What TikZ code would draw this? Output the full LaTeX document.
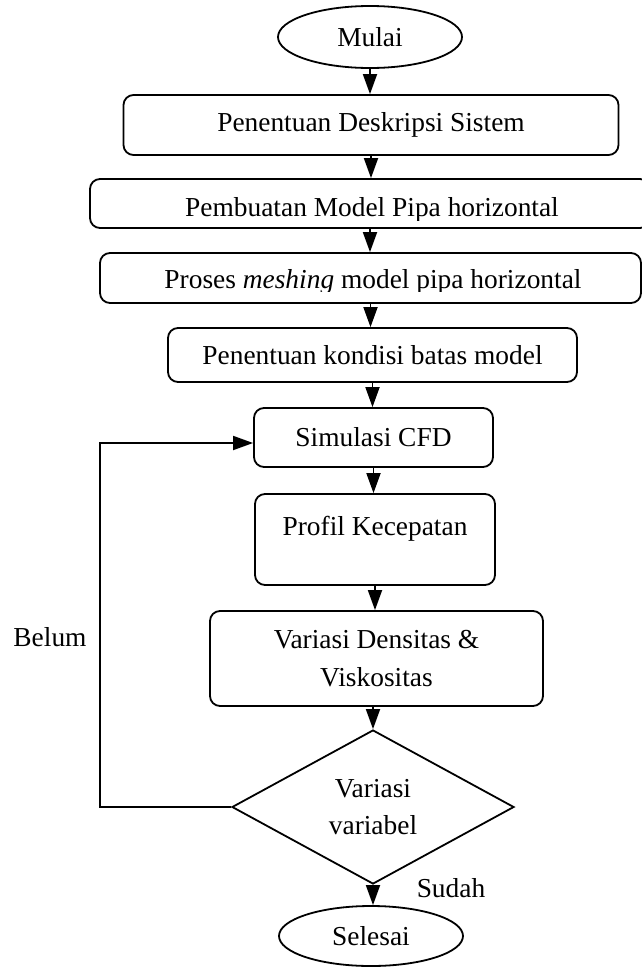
\documentclass[tikz,border=0pt]{standalone}
\usepackage{fontspec}
\setmainfont{Liberation Serif}
\usetikzlibrary{shapes.geometric,arrows.meta}
\begin{document}
\begin{tikzpicture}[x=1pt,y=-1pt,
  every node/.style={font=\fontsize{27.4}{37.5}\selectfont, inner sep=0pt},
  box/.style={draw, line width=1.8pt, rounded corners=10pt},
  term/.style={draw, ellipse, line width=1.8pt, minimum width=184pt, minimum height=62pt},
  flow/.style={line width=1.8pt, -{Triangle[length=20pt,width=14pt]}},
  link/.style={line width=1.8pt}]
\useasboundingbox (0,0) rectangle (642,967);

% start
\node[term] (mulai) at (370,37) {Mulai};

% process steps
\node[box, minimum width=495pt, minimum height=60pt] (b1) at (371,125) {Penentuan Deskripsi Sistem};

\node[box, minimum width=560pt, minimum height=49pt] (b2) at (370,203.5) {};
\begin{scope}
  \clip (90,179) rectangle (650,220);
  \node[anchor=base] (t2) at (372,216) {Pembuatan Model Pipa horizontal};
\end{scope}

\node[box, minimum width=541pt, minimum height=50pt] (b3) at (370.5,278) {};
\begin{scope}
  \clip (100,253) rectangle (650,291);
  \node[anchor=base] (t3) at (373,288) {Proses \textit{meshing} model pipa horizontal};
\end{scope}

\node[box, minimum width=409pt, minimum height=54pt] (b4) at (372.5,355) {Penentuan kondisi batas model};
\node[box, minimum width=239pt, minimum height=59pt] (b5) at (373.5,437.5) {Simulasi CFD};

\node[box, minimum width=240pt, minimum height=91pt] (b6) at (375,539.5) {};
\node[anchor=base] (t6) at (375,535) {Profil Kecepatan};

\node[box, minimum width=333pt, minimum height=95pt, align=center] (b7) at (376.5,658.5) {Variasi Densitas \&\\Viskositas};

% decision
\node[draw, diamond, line width=1.8pt, shape aspect=1.83, minimum width=282pt,
      minimum height=154pt, align=center] (d) at (373,807) {Variasi\\variabel};

% end
\node[term, minimum height=60pt] (sel) at (371,936) {Selesai};

% main flow
\draw[flow] (mulai.south) -- (mulai.south |- b1.north);
\draw[flow] (b1.south) -- (b1.south |- b2.north);
\draw[flow] (b2.south) -- (b2.south |- b3.north);
\draw[flow] (b3.south) -- (b3.south |- b4.north);
\draw[flow] (b4.south) -- (b4.south |- b5.north);
\draw[flow] (b5.south) -- (b5.south |- b6.north);
\draw[flow] (b6.south) -- (b6.south |- b7.north);
\draw[flow] (b7.south -| d.north) -- (d.north);
\draw[flow] (d.south) -- (d.south |- sel.north);

% loop back when not finished
\coordinate (lb) at (100,807);
\coordinate (lt) at (100,443);
\draw[flow] (d.west) -- (lb) -- (lt) -- (lt -| b5.west);

\node (belum) at (50,637) {Belum};
\node (sudah) at (451,888) {Sudah};
\end{tikzpicture}
\end{document}
